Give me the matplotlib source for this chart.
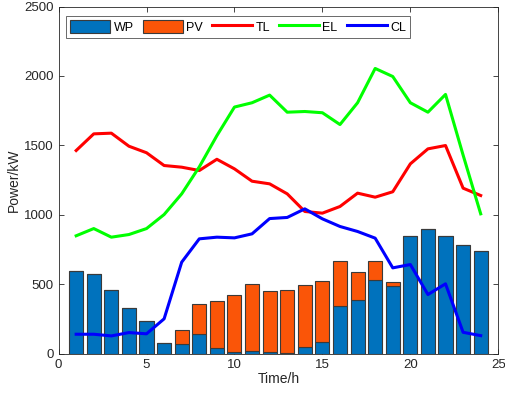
import matplotlib
matplotlib.use("Agg")
import matplotlib.pyplot as plt
import numpy as np

plt.rcParams['font.family'] = ['Liberation Sans', 'DejaVu Sans']

hours = list(range(1, 25))
WP = [592, 577, 462, 331, 235, 79, 72, 139, 43, 12, 17, 12, 5, 48, 83, 345, 386, 529, 489, 849, 901, 849, 781, 743]
PV_top = [592, 577, 462, 331, 235, 79, 167, 360, 376, 419, 503, 453, 455, 491, 527, 671, 587, 669, 518, 849, 901, 849, 781, 743]
PV = [t - w for t, w in zip(PV_top, WP)]
TL = [1463, 1583, 1588, 1494, 1447, 1355, 1343, 1319, 1400, 1331, 1242, 1223, 1151, 1024, 1012, 1060, 1156, 1127, 1166, 1367, 1475, 1499, 1192, 1139]
EL = [849, 901, 839, 858, 901, 1002, 1151, 1345, 1570, 1776, 1807, 1862, 1739, 1744, 1735, 1650, 1807, 2054, 1996, 1807, 1739, 1867, 1430, 1007]
CL = [140, 140, 128, 152, 143, 251, 659, 827, 839, 834, 863, 973, 981, 1043, 971, 916, 880, 832, 618, 642, 426, 503, 154, 130]

fig = plt.figure(figsize=(5.05, 3.95), dpi=100)
ax = fig.add_axes([0.1160, 0.1046, 0.8707, 0.8789])

edge = '#3a3a3a'
b1 = ax.bar(hours, WP, width=0.8, color='#0072BD', edgecolor=edge, linewidth=0.8, label='WP', zorder=2)
b2 = ax.bar(hours, PV, width=0.8, bottom=WP, color='#FA5508', edgecolor=edge, linewidth=0.8, label='PV', zorder=2)
l1, = ax.plot(hours, TL, color='#FF0000', lw=2.2, label='TL', zorder=3)
l2, = ax.plot(hours, EL, color='#00FF00', lw=2.2, label='EL', zorder=3)
l3, = ax.plot(hours, CL, color='#0000FF', lw=2.2, label='CL', zorder=4)

ax.set_xlim(0, 25)
ax.set_ylim(0, 2500)
ax.set_xticks([0, 5, 10, 15, 20, 25])
ax.set_yticks([0, 500, 1000, 1500, 2000, 2500])
ax.tick_params(direction='in', top=True, right=True, labelsize=9.5, colors='#262626', length=3.5, width=0.6)
for s in ax.spines.values():
    s.set_color('#262626')
    s.set_linewidth(0.6)
ax.set_xlabel('Time/h', fontsize=10, color='#262626', labelpad=1)
ax.set_ylabel('Power/kW', fontsize=10, color='#262626', labelpad=2)

leg = ax.legend([b1, b2, l1, l2, l3], ['WP', 'PV', 'TL', 'EL', 'CL'], ncol=5, loc='upper left',
                bbox_to_anchor=(0.017, 0.973), fontsize=9,
                frameon=True, fancybox=False, edgecolor='#262626', handlelength=3.2,
                handleheight=1.15, columnspacing=0.75, handletextpad=0.25, borderpad=0.35,
                borderaxespad=0.0)
leg.get_frame().set_linewidth(0.6)

fig.savefig('out.png', dpi=100)
